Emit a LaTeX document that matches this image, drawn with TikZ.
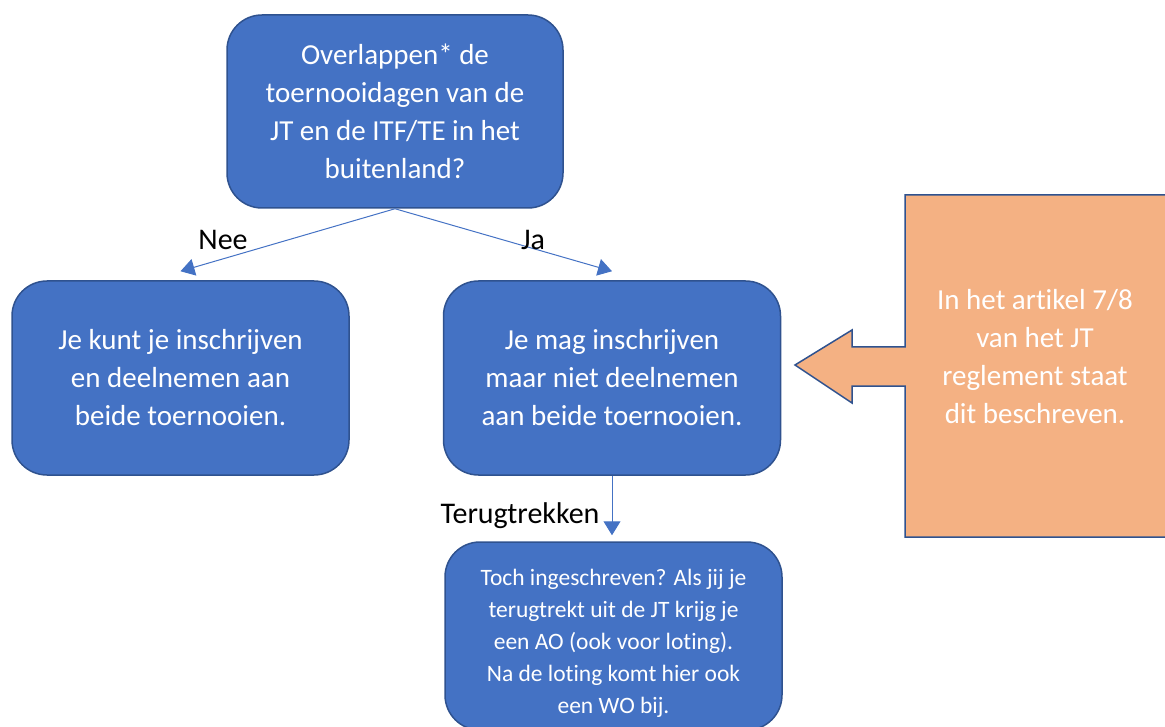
\documentclass[tikz,border=0pt]{standalone}
\usepackage{fontspec}
\setmainfont{Carlito}[Ligatures=NoCommon]
\usetikzlibrary{arrows.meta,calc}
\definecolor{boxblue}{HTML}{4472C4}
\definecolor{edgeblue}{HTML}{2F528F}
\definecolor{peach}{HTML}{F4B183}
\begin{document}
\begin{tikzpicture}[x=1pt,y=-1pt,
 bluebox/.style={draw=edgeblue, fill=boxblue, line width=1.5pt, rounded corners=35pt, text=white, align=center, font=\fontsize{29}{38}\selectfont, minimum width=336pt, minimum height=193pt, inner sep=0pt},
 conn/.style={draw=boxblue, line width=1pt, -{Triangle[length=14pt,width=17pt]}},
 lbl/.style={font=\fontsize{30}{32}\selectfont, text=black, inner sep=0pt}]
\useasboundingbox (0,0) rectangle (1165,727);
\clip (0,0) rectangle (1165,727);
\node[bluebox] (top) at (395,111.5) {Overlappen* de\\toernooidagen van de\\JT en de ITF/TE in het\\buitenland?};
\node[bluebox, minimum width=337pt, minimum height=194pt] (left) at (180.5,378) {Je kunt je inschrijven\\en deelnemen aan\\beide toernooien.};
\node[bluebox, minimum width=337pt, minimum height=194pt] (mid) at (612,378) {Je mag inschrijven\\maar niet deelnemen\\aan beide toernooien.};
\node[bluebox, minimum width=337pt, minimum height=188pt] (bot) at (613.5,636) {};
\node[text=white, align=center, font=\fontsize{23.5}{32}\selectfont] (bottxt) at (613.5,643) {Toch ingeschreven? Als jij je\\terugtrekt uit de JT krijg je\\een AO (ook voor loting).\\Na de loting komt hier ook\\een WO bij.};
\coordinate (lend) at ($(left.north)+(0,-9)$);
\coordinate (mend) at ($(mid.north)+(0,-9)$);
\coordinate (bend) at ($(mid.south |- bot.north)+(0,-6)$);
\draw[conn] (top.south) -- (lend);
\draw[conn] (top.south) -- (mend);
\draw[conn] (mid.south) -- (bend);
\node[lbl] (nee) at (223,240) {Nee};
\node[lbl] (ja) at (533,240) {Ja};
\node[lbl] (terug) at (520,516) {Terugtrekken};
\draw[draw=edgeblue, fill=peach, line width=1.5pt, line join=miter]
 (1170,195) -- (905,195) -- (905,347) -- (852,347) -- (852,330) -- (795,365)
 -- (852,403) -- (852,386) -- (905,386) -- (905,537) -- (1170,537);
\node[text=white, align=center, font=\fontsize{29}{38}\selectfont] (note) at (1035,357) {In het artikel 7/8\\van het JT\\reglement staat\\dit beschreven.};
\end{tikzpicture}
\end{document}
